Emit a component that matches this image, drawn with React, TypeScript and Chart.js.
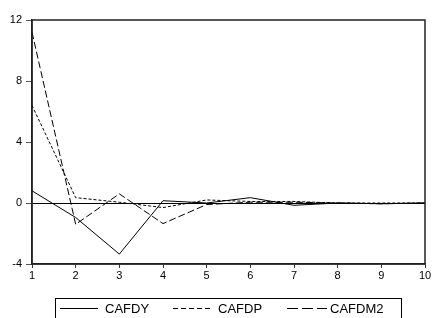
import React, { useEffect, useRef } from "react";
import { Chart, registerables } from "chart.js";

Chart.register(...registerables);

const periods = ["1", "2", "3", "4", "5", "6", "7", "8", "9", "10"];
const cafdy = [0.8, -0.95, -3.35, 0.15, 0.0, 0.35, -0.15, 0.0, -0.05, 0.0];
const cafdp = [6.4, 0.35, 0.05, -0.3, 0.2, 0.1, 0.1, 0.0, 0.0, 0.0];
const cafdm2 = [11.2, -1.4, 0.6, -1.35, -0.1, 0.05, 0.05, 0.0, -0.05, 0.0];
const yTicks = [-4, 0, 4, 8, 12];
const seriesNames = ["CAFDY", "CAFDP", "CAFDM2"];
const dashes: number[][] = [[], [3, 2], [7, 3]];

const FONT = "'Liberation Sans', Arial, sans-serif";

export default function App() {
  const ref = useRef<HTMLCanvasElement | null>(null);
  useEffect(() => {
    document.body.style.margin = "0";
    const canvas = ref.current!;
    const framePlugin = {
      id: "frameLegend",
      afterDraw(chart: any) {
        const { ctx, chartArea } = chart;
        ctx.save();
        ctx.strokeStyle = "#222";
        ctx.lineWidth = 1.5;
        ctx.strokeRect(
          Math.round(chartArea.left),
          Math.round(chartArea.top),
          Math.round(chartArea.right - chartArea.left),
          Math.round(chartArea.bottom - chartArea.top)
        );
        // legend box
        ctx.lineWidth = 1;
        ctx.strokeStyle = "#000";
        ctx.strokeRect(55.5, 298.5, 346, 30);
        const items = [
          { x1: 60, x2: 98, tx: 105 },
          { x1: 173, x2: 213, tx: 218 },
          { x1: 287, x2: 327, tx: 330 },
        ];
        ctx.font = `13px ${FONT}`;
        ctx.fillStyle = "#000";
        ctx.textBaseline = "middle";
        items.forEach((it, i) => {
          ctx.beginPath();
          ctx.setLineDash(i === 1 ? [5, 3] : i === 2 ? [11, 4] : []);
          ctx.moveTo(it.x1, 308.5);
          ctx.lineTo(it.x2, 308.5);
          ctx.stroke();
          ctx.setLineDash([]);
          ctx.fillText(seriesNames[i], it.tx, 309.5);
        });
        ctx.restore();
      },
    };
    const mk = (label: string, data: number[], dash: number[]) => ({
      label,
      data,
      borderColor: "#000",
      borderWidth: 1,
      borderDash: dash,
      pointRadius: 0,
      fill: false,
      tension: 0,
    });
    const chart = new Chart(canvas, {
      type: "line",
      data: {
        labels: periods,
        datasets: [
          mk(seriesNames[0], cafdy, dashes[0]),
          mk(seriesNames[1], cafdp, dashes[1]),
          mk(seriesNames[2], cafdm2, dashes[2]),
        ],
      },
      options: {
        animation: false,
        responsive: false,
        layout: { padding: { left: 0, top: 20, right: 10, bottom: 0 } },
        plugins: { legend: { display: false }, tooltip: { enabled: false } },
        scales: {
          x: {
            type: "category",
            offset: false,
            afterFit: (s: any) => {
              s.height = 54;
            },
            grid: {
              drawOnChartArea: false,
              tickLength: 4,
              tickColor: "#333",
            },
            border: { color: "#222", width: 1.5 },
            ticks: {
              color: "#000",
              font: { family: FONT, size: 11 },
              padding: 1,
              maxRotation: 0,
              autoSkip: false,
            },
          },
          y: {
            min: -4,
            max: 12,
            afterFit: (s: any) => {
              s.width = 32;
            },
            afterBuildTicks: (s: any) => {
              s.ticks = yTicks.map((v) => ({ value: v }));
            },
            grid: {
              drawOnChartArea: true,
              color: (c: any) => (c.tick && c.tick.value === 0 ? "#000" : "rgba(0,0,0,0)"),
              tickColor: "#555",
              tickLength: 6,
              lineWidth: 1,
            },
            border: { color: "#222", width: 1.5 },
            ticks: {
              color: "#000",
              font: { family: FONT, size: 11 },
              padding: 4,
            },
          },
        },
      },
      plugins: [framePlugin],
    });
    return () => chart.destroy();
  }, []);
  return (
    <div style={{ position: "fixed", left: 0, top: 0, width: 435, height: 318, background: "#fff" }}>
      <canvas ref={ref} width={435} height={318} style={{ width: 435, height: 318 }} />
    </div>
  );
}
